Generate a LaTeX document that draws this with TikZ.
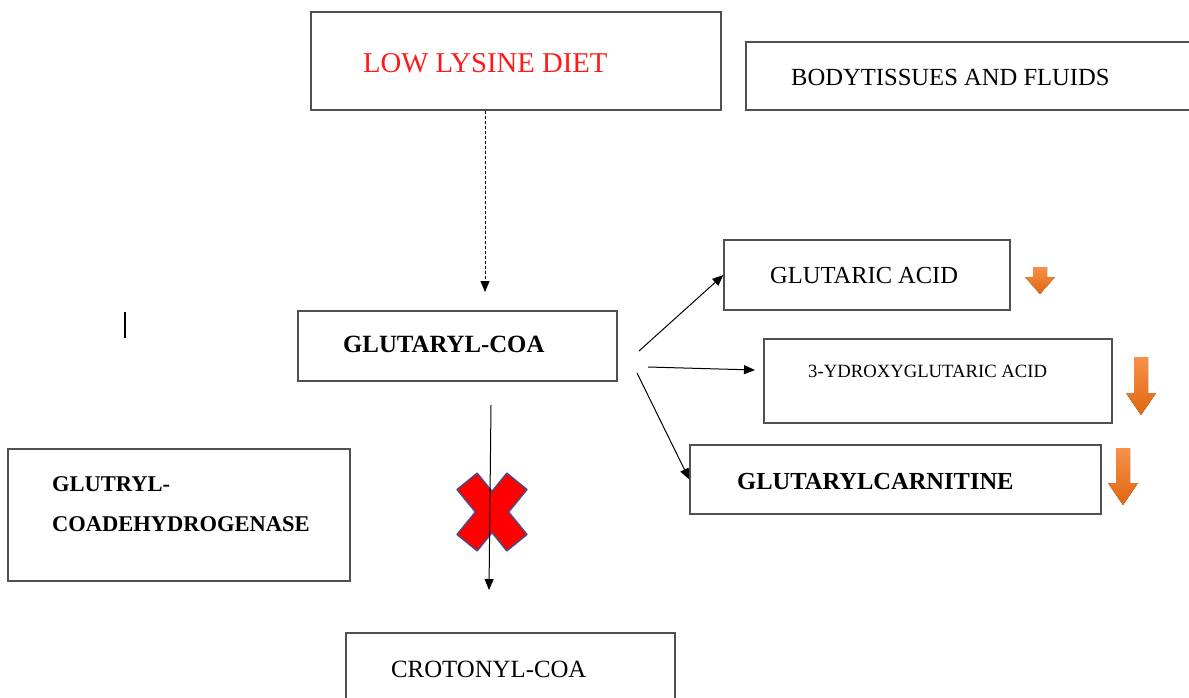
\documentclass[tikz,border=0pt]{standalone}
\usepackage{fontspec}
\setmainfont{Liberation Serif}
\usetikzlibrary{arrows.meta,calc}

\definecolor{boxline}{HTML}{505050}
\definecolor{dietred}{HTML}{FF1A1A}
\definecolor{xred}{HTML}{FF0000}
\definecolor{xedge}{HTML}{40508C}
\definecolor{arrowlight}{HTML}{F6914A}
\definecolor{arrowdark}{HTML}{E2660F}

\tikzset{
  box/.style={draw=boxline, line width=1.3pt, rectangle, inner sep=0pt},
  lbl/.style={anchor=west, inner sep=0pt, font=\fontsize{24.5}{29}\selectfont},
  boldlbl/.style={lbl, font=\bfseries\fontsize{24.5}{29}\selectfont},
  flow/.style={draw=black, line width=1pt, -{Triangle[length=11pt,width=9pt]}},
  dropflow/.style={flow, dash pattern=on 3pt off 2pt},
  blockmark/.style={fill=xred, draw=xedge, line width=1.4pt, line join=round},
  decrease/.style={top color=arrowlight, bottom color=arrowdark, draw=none},
}

\begin{document}
\begin{tikzpicture}[x=1pt, y=-1pt]
  \useasboundingbox (0,0) rectangle (1189,697);

  % boxes
  \node[box, minimum width=410, minimum height=98] (lld)  at (516,61)    {};
  \node[box, minimum width=454, minimum height=68] (bt)   at (973,76)    {};
  \node[box, minimum width=286, minimum height=70] (ga)   at (867,275)   {};
  \node[box, minimum width=348, minimum height=84] (hy)   at (938,381)   {};
  \node[box, minimum width=411, minimum height=69] (gc)   at (895.5,479.5) {};
  \node[box, minimum width=319, minimum height=70] (gcoa) at (457.5,346) {};
  \node[box, minimum width=342, minimum height=132] (gdh) at (179,515)   {};
  \node[box, minimum width=329, minimum height=77] (cc)   at (510.5,671.5) {};

  % labels
  \node[lbl, text=dietred, font=\fontsize{28.7}{34}\selectfont] (lld-t) at (363,63) {LOW LYSINE DIET};
  \node[lbl, font=\fontsize{24.6}{29}\selectfont] (bt-t) at (791,77) {BODYTISSUES AND FLUIDS};
  \node[lbl] (ga-t) at (770,276) {GLUTARIC ACID};
  \node[lbl, font=\fontsize{18.7}{22}\selectfont] (hy-t) at (808,371) {3-YDROXYGLUTARIC ACID};
  \node[boldlbl] (gc-t) at (737,481) {GLUTARYLCARNITINE};
  \node[boldlbl, font=\bfseries\fontsize{24.8}{29}\selectfont] (gcoa-t) at (343,344) {GLUTARYL-COA};
  \node[lbl, align=left, font=\bfseries\fontsize{22.5}{39.5}\selectfont] (gdh-t) at (52,504.25) {GLUTRYL-\\COADEHYDROGENASE};
  \node[lbl, font=\fontsize{24.8}{29}\selectfont] (cc-t) at (391,669.5) {CROTONYL-COA};

  % free ends of the connectors
  \coordinate (diet-end) at (485,292);
  \coordinate (down-start) at (491,405);
  \coordinate (down-end) at (489,590);
  \coordinate (out-a) at (639,351);
  \coordinate (out-b) at (648,367);
  \coordinate (out-c) at (637,373);
  \coordinate (hy-end) at (755,370);

  % diet lowers glutaryl-CoA input
  \draw[dropflow] (lld.south -| diet-end) -- (diet-end);

  % blocked dehydrogenase step
  \draw[blockmark, shift={(492,512)}]
    (-14.8,-38.9) -- (0,-20.6) -- (14.8,-38.9) -- (35,-22.5) -- (16.7,0)
    -- (35,22.5) -- (14.8,38.9) -- (0,20.6) -- (-14.8,38.9) -- (-35,22.5)
    -- (-16.7,0) -- (-35,-22.5) -- cycle;
  \draw[flow] (down-start) -- (down-end);

  % accumulating metabolites
  \draw[flow] (out-a) -- (ga.west);
  \draw[flow] (out-b) -- (hy-end);
  \draw[flow] (out-c) -- (gc.west);

  % decrease markers
  \fill[decrease] (1033,267) -- (1047,267) -- (1047,277) -- (1055,277) -- (1040,294)
    -- (1025,277) -- (1033,277) -- cycle;
  \fill[decrease] (1134,357) -- (1148,357) -- (1148,393) -- (1156,393) -- (1141,415)
    -- (1126,393) -- (1134,393) -- cycle;
  \fill[decrease] (1116,448) -- (1130,448) -- (1130,483) -- (1138,483) -- (1123,505)
    -- (1108,483) -- (1116,483) -- cycle;

  % stray vertical stroke
  \draw[line width=1.5pt] (125,312) -- (125,338);
\end{tikzpicture}
\end{document}
